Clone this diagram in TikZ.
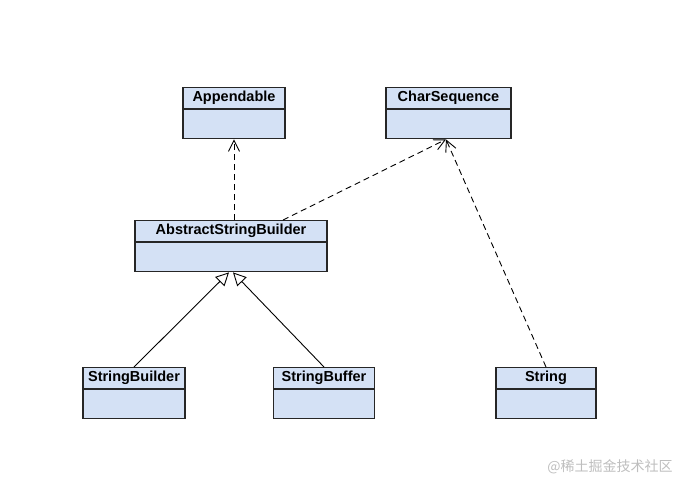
\documentclass[tikz,border=0pt]{standalone}
\usepackage{fontspec}
\setmainfont{Liberation Sans}
\newfontfamily\cjkfont{Noto Sans CJK SC}
\usetikzlibrary{positioning,calc,arrows.meta}

\newcommand{\varhead}{21pt}
\newcommand{\varbody}{29pt}
\definecolor{classblue}{RGB}{212,225,245}
\definecolor{markgray}{RGB}{190,190,190}

\tikzset{
  classhead/.style={draw=black!85, line width=1.2pt, fill=classblue, minimum height=\varhead,
    inner sep=0pt, anchor=north, font=\bfseries\fontsize{14.5}{17}\selectfont},
  classbody/.style={draw=black!85, line width=1.2pt, fill=classblue, minimum height=\varbody,
    inner sep=0pt, anchor=north},
  realize/.style={-{Straight Barb[length=11pt,width=11pt]}, dash pattern=on 6pt off 4pt, line width=0.9pt},
  extend/.style={-{Triangle[open,length=13pt,width=13pt]}, line width=0.9pt}
}

\begin{document}
\begin{tikzpicture}[x=1pt, y=-1pt]
	\useasboundingbox (0,0) rectangle (691,491);

	% interfaces
	\node [classhead, minimum width=102pt] (app) at (234,87) {Appendable};
	\node [classbody, minimum width=102pt] (appb) at (app.south) {};
	\node [classhead, minimum width=125pt] (chs) at (448.5,87) {CharSequence};
	\node [classbody, minimum width=125pt] (chsb) at (chs.south) {};

	% abstract class
	\node [classhead, minimum width=192pt] (asb) at (231,220) {AbstractStringBuilder};
	\node [classbody, minimum width=192pt] (asbb) at (asb.south) {};

	% concrete classes
	\node [classhead, minimum width=102pt] (sbd) at (134,367) {StringBuilder};
	\node [classbody, minimum width=102pt] (sbdb) at (sbd.south) {};
	\node [classhead, minimum width=101pt] (sbf) at (324,367) {StringBuffer};
	\node [classbody, minimum width=101pt] (sbfb) at (sbf.south) {};
	\node [classhead, minimum width=100pt] (str) at (546,367) {String};
	\node [classbody, minimum width=100pt] (strb) at (str.south) {};

	% anchor points
	\coordinate (asbtop) at ($(asb.north)+(52,0)$);
	\coordinate (chsin) at ($(chsb.south)+(-2.5,0)$);
	\coordinate (asbl) at ($(asbb.south)+(-2,0)$);
	\coordinate (asbr) at ($(asbb.south)+(2,0)$);

	% realization
	\draw [realize] (asb.north -| appb.south) -- (appb.south);
	\draw [realize] (asbtop) -- (chsin);
	\draw [realize] (str.north) -- (chsin);

	% inheritance
	\draw [extend] (sbd.north) -- (asbl);
	\draw [extend] (sbf.north) -- (asbr);

	% watermark
	\node [text=markgray, font=\cjkfont\fontsize{14}{16}\selectfont] (mark) at (610,467) {@稀土掘金技术社区};
\end{tikzpicture}
\end{document}
